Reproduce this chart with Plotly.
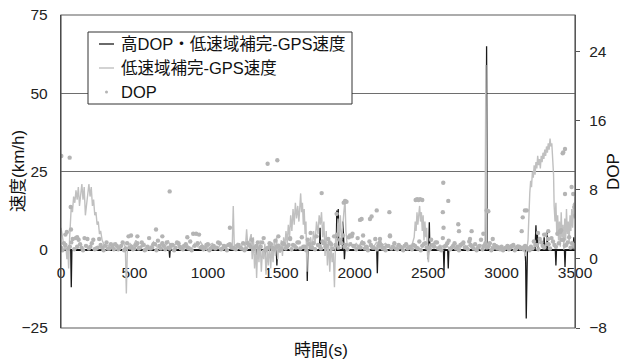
import plotly.graph_objects as go

# ---------------- data ----------------
# 低速域補完-GPS速度 (gray line): (time s, speed km/h)
gray_t = [0, 8, 16, 24, 32, 40, 46, 52, 58, 64, 70, 78, 86, 94, 102, 110, 118, 126, 134, 142,
          150, 158, 166, 174, 182, 190, 198, 206, 214, 222, 230, 238, 246, 254, 262, 270, 280, 290, 300,
          320, 340, 360, 380, 400, 420, 438, 445, 452, 470, 490, 510, 530, 550, 570, 590, 610, 630, 650,
          670, 690, 710, 730, 750, 770, 790, 810, 830, 850, 870, 890, 910, 930, 950, 970, 990, 1010,
          1030, 1050, 1070, 1090, 1110, 1130, 1150, 1166, 1173, 1180, 1200, 1220, 1240, 1256, 1264,
          1272, 1285, 1295,
          1302, 1310, 1318, 1326, 1332, 1340, 1348, 1356, 1364, 1372, 1380, 1388, 1396, 1404, 1412,
          1420, 1428, 1436, 1444, 1452, 1460, 1468, 1476, 1484, 1492, 1500, 1508, 1516, 1524, 1532,
          1540, 1548, 1556, 1564, 1572, 1580, 1588, 1596, 1604, 1612, 1620, 1626, 1632, 1638, 1644,
          1650, 1656, 1662, 1668, 1674, 1680, 1690, 1700, 1710, 1720, 1730, 1740, 1750, 1758, 1766,
          1774, 1782, 1790, 1798, 1806, 1814, 1822, 1830, 1838, 1846, 1854, 1862, 1870, 1878, 1886,
          1894, 1902, 1910, 1918, 1926, 1934, 1940, 1948, 1960, 1975,
          1990, 2010, 2030, 2050, 2070, 2090, 2110, 2130, 2150, 2170, 2190, 2210, 2230, 2250, 2270,
          2290, 2310, 2330, 2350, 2370, 2390,
          2405, 2412, 2418, 2424, 2430, 2436, 2442, 2448, 2454, 2460, 2466, 2472, 2478, 2484, 2490,
          2496, 2502, 2508, 2514, 2522,
          2540, 2560, 2580, 2600, 2620, 2640, 2660, 2680, 2700, 2720, 2740, 2760, 2780, 2800, 2820,
          2840, 2860, 2880, 2887, 2893, 2899,
          2910, 2930, 2950, 2970, 2990, 3010, 3030, 3050, 3070, 3090, 3110, 3130, 3150, 3162, 3172, 3180,
          3186, 3192, 3198, 3204, 3210, 3216, 3222, 3228, 3234, 3240, 3246, 3252, 3258, 3264, 3270,
          3276, 3282, 3288, 3294, 3300, 3306, 3312, 3318, 3324, 3330, 3336, 3342, 3348, 3354, 3358,
          3364, 3370, 3376, 3382, 3388, 3394, 3400, 3406, 3412, 3418, 3424, 3430, 3436, 3442, 3448,
          3454, 3460, 3466, 3472, 3478, 3484, 3490, 3496, 3500]
gray_v = [7, 5, 2, 0, 2, -3, 1, -6, 3, 9, 14, 12, 17, 15, 19, 16, 20, 14, 18, 21,
          16, 20, 11, 15, 19, 21, 17, 20, 14, 16, 11, 12, 8, 9, 5, 6, 3, 2, 1,
          1.5, 0.5, 2, 1, 0, 2.5, 1, -14, 0.5, 2, 1, 3, 0.5, 1.5, 2, 0, 1, 2.5, 1,
          0.5, 2, 1, 3, 0.5, 1.5, 2, 0, 1.5, 2, 1, 0.5, 2, 1, 2.5, 1, 0, 1.5,
          2, 1, 0.5, 2, 1, 1.5, 2, 1, 14, 1, 2, 0.5, 2, 1, 6.5,
          1, 3, 5,
          -3, 4, -6, 1, -9, 2, -4, 3, -7, 0, -3, 2, -8, 0, -5,
          2, -6, 1, -4, 3, -2, 4, -3, 2, -1, 3, -2, 4, 1, 6,
          2, 8, 4, 11, 6, 13, 8, 15, 10, 14, 9, 16, 18, 12, 15,
          8, 13, 5, 9, -7, 3, 1, 4, 0, 6, 2, 9, 5, 11, 8,
          12, 4, 9, -2, 6, -5, 3, -7, 2, -4, -1, -12, 4, 1, 10,
          4, 11, 2, 8, 12, 16, 6, 2, 1, 2,
          0.5, 2, 1, 3, 1, 0.5, 2, 1, 2.5, 0.5, 1.5, 2, 1, 0.5, 2,
          1, 1.5, 0.5, 2, 1, 1.5,
          4, 9, 6, 12, 8, 13, 14, 9, 12, 6, 11, 3, 9, 4, 7,
          -2, -4, 2, 0, 1,
          2, 0.5, 1.5, 1, 2, 0.5, 1, 2, 1, 0.5, 2, 1, 1.5, 0.5, 2,
          1, 1.5, 0.5, 1, 59, 1,
          2, 1, 0.5, 1.5, 1, 0.5, 1, 1.5, 0.5, 1, 1.5, 1, 0.5, -2, 0, 3,
          12, 18, 22, 20, 25, 23, 27, 24, 28, 26, 30, 27, 29, 26, 30,
          28, 31, 29, 32, 30, 33, 31, 34, 32, 35.5, 33, 34, 30, 24, 14,
          9, 15, 5, 11, 3, 9, 1, 12, 4, 8, 0, 10, 3, 13, 5,
          9, 2, 11, 6, 13, 7, 14, 10, 17]

# 高DOP・低速域補完-GPS速度 (black line): (time s, speed km/h)
black_t = [0, 66, 70, 74, 736, 740, 744, 1294, 1298, 1302, 1326, 1330, 1334, 1386, 1390, 1394,
           1416, 1420, 1424, 1466, 1470, 1474, 1673, 1677, 1681, 1760, 1764, 1768, 1874, 1878, 1882,
           1888, 1892, 1916, 1920, 1924, 1930, 1934, 2150, 2154, 2158, 2496, 2500, 2504, 2508, 2512,
           2604, 2608, 2612, 2633, 2637, 2641, 2894, 2898, 2902, 3160, 3164, 3168, 3172, 3176, 3228,
           3234, 3238, 3244, 3248, 3286, 3290, 3294, 3308, 3311, 3314, 3366, 3370, 3374, 3428, 3432,
           3436, 3486, 3492, 3496, 3500]
black_v = [0, 0, -12, 0, 0, -2.5, 0, 0, 3.5, 0, 0, -2, 0, 0, -2, 0,
           0, 2, 0, 0, -5, 0, 0, -10, 0, 0, 7, 0, 0, 12.5, 3,
           13, 0, 0, 9, 0, -3, 0, 0, -7.5, 0, 0, -3, 0, 8.8, 0,
           0, -6.6, 0, 0, -6, 0, 0, 65, 0, 0, -4, -22, -12, 0, 0,
           7.8, 2, 5, 0, 0, 4, 0, 0, 6, 0, 0, -5, 0, 0, -5.5,
           0, 0, 4, 0, 0]

# DOP (gray dots) – base ribbon every 20 s
dop_base_t = list(range(0, 3501, 20))
dop_base_v = [1.3, 1.8, 3.1, 1.4, 2.3, 2.4, 2.2, 1.3, 2.4, 2.3,
              1.4, 2.2, 1.2, 2.3, 1.3, 1.5, 1.2, 1.7, 1.1, 1.5,
              1.3, 1.9, 1.2, 2.6, 1.4, 1.2, 1.8, 1.3, 1.6, 1.1,
              2.4, 1.3, 1.7, 2.1, 1.2, 1.5, 1.9, 1.2, 1.6, 1.3,
              1.8, 1.2, 1.5, 1.3, 2.0, 2.9, 2.9, 2.8, 1.4, 1.3,
              1.7, 1.2, 1.5, 1.3, 1.8, 1.2, 1.4, 1.6, 1.3, 1.2,
              1.5, 1.3, 1.8, 1.2, 1.6, 2.2, 1.3, 1.9, 1.4, 2.4,
              1.2, 1.8, 1.3, 2.1, 1.5, 1.2, 1.7, 1.4, 2.3, 1.6,
              1.3, 1.9, 2.5, 1.4, 2.2, 1.3, 1.8, 2.6, 1.5, 2.0,
              1.4, 2.3, 1.7, 2.6, 2.8, 2.2, 2.7, 1.6, 2.5, 2.6,
              1.5, 2.4, 1.3, 1.8, 1.4, 2.0, 1.3, 2.3, 1.5, 1.6,
              1.3, 1.5, 2.6, 1.4, 1.2, 1.6, 1.3, 1.5, 1.2, 1.4,
              1.6, 1.3, 2.0, 1.5, 1.8, 1.3, 2.2, 1.4, 1.9, 1.3,
              2.4, 1.5, 2.1, 1.3, 1.8, 1.4, 1.6, 1.9, 1.3, 2.0,
              1.4, 1.7, 1.3, 2.2, 1.5, 1.3, 1.8, 1.2, 1.5, 1.3,
              1.4, 1.2, 1.5, 1.3, 1.6, 1.2, 1.4, 1.3, 1.5, 1.2,
              1.4, 2.0, 1.6, 2.3, 1.5, 2.8, 1.7, 2.4, 1.6, 2.9,
              3.1, 2.2, 1.6, 2.5, 1.8, 1.4]
# DOP – second ribbon, offset by 10 s
dop_mid_t = list(range(10, 3500, 20))
dop_mid_v = [1.0, 1.6, 1.2, 1.9, 1.1, 1.4, 1.7, 1.0, 1.5, 1.2,
             1.8, 1.1, 1.3, 1.6, 1.0, 1.9, 1.2, 1.4, 1.7, 1.1,
             1.5, 1.0, 1.8, 1.3, 1.1, 1.6, 1.2, 1.9, 1.0, 1.4,
             1.2, 1.7, 1.0, 1.5, 1.8, 1.1, 1.3, 1.6, 1.0, 1.9,
             1.4, 1.1, 1.7, 1.2, 1.0, 1.5, 1.8, 1.3, 1.1, 1.6,
             1.0, 1.4, 1.2, 1.9, 1.1, 1.5, 1.0, 1.7, 1.3, 1.1,
             1.6, 1.2, 1.0, 1.8, 1.4, 1.1, 1.5, 1.2, 1.9, 1.0,
             1.3, 1.7, 1.1, 1.4, 1.0, 1.8, 1.2, 1.6, 1.1, 1.5,
             1.9, 1.2, 1.4, 1.0, 1.7, 1.3, 1.1, 1.6, 1.2, 1.8,
             1.5, 1.9, 1.2, 1.6, 1.3, 1.8, 1.4, 1.1, 1.7, 1.5,
             1.1, 1.4, 1.8, 1.2, 1.0, 1.6, 1.3, 1.1, 1.9, 1.2,
             1.0, 1.5, 1.2, 1.8, 1.1, 1.4, 1.0, 1.7, 1.3, 1.1,
             1.5, 1.2, 1.0, 1.7, 1.3, 1.1, 1.6, 1.9, 1.2, 1.0,
             1.4, 1.8, 1.1, 1.5, 1.2, 1.0, 1.7, 1.3, 1.1, 1.6,
             1.2, 1.0, 1.5, 1.1, 1.8, 1.4, 1.0, 1.6, 1.2, 1.1,
             1.0, 1.3, 1.1, 1.5, 1.0, 1.4, 1.2, 1.1, 1.3, 1.0,
             1.2, 1.6, 1.1, 1.9, 1.3, 1.7, 1.2, 2.0, 1.4, 1.8,
             2.2, 1.5, 1.9, 1.3, 1.6]
# DOP – scattered higher values
dop_extra_t = [2, 59, 66, 68, 30, 110, 477, 520, 647, 740, 690, 860, 1150, 1407, 1473, 1480, 1560,
               1700, 1775, 1877, 1925, 1934, 1944, 1968, 1985, 2036, 2047, 2057, 2104, 2115, 2150,
               2172, 2236, 2240, 2415, 2425, 2435, 2445, 2460, 2603, 2600, 2605, 2637, 2705, 2710,
               2785, 2796, 2876, 2898, 2910, 2940, 3137, 3144, 3159, 3171, 3248, 3290, 3316, 3318,
               3398, 3405, 3416, 3420, 3432, 3432, 3477, 3488, 3495, 3500, 3500]
dop_extra_v = [11.9, 11.7, 6.0, 3.4, 2.8, 2.5, 2.7, 2.6, 3.4, 7.8, 2.6, 2.5, 3.6, 11.0, 11.4, 2.6, 2.4,
               3.0, 7.6, 5.2, 6.5, 6.7, 6.6, 2.7, 2.9, 4.5, 4.6, 2.7, 4.6, 4.9, 5.6,
               2.3, 5.4, 2.7, 6.8, 6.9, 6.8, 6.9, 6.8, 8.8, 5.4, 3.6, 6.7, 4.0, 3.2,
               2.3, 3.2, 2.9, 5.6, 5.5, 2.3, 3.2, 4.8, 5.6, 5.6, 3.0, 2.8, 2.3, 3.2,
               3.2, 3.3, 12.2, 12.3, 12.7, 7.5, 8.3, 7.5, 6.0, 6.3, 5.0]

x_ticks = [0, 500, 1000, 1500, 2000, 2500, 3000, 3500]
y_ticks = [-25, 0, 25, 50, 75]
y2_ticks = [-8, 0, 8, 16, 24]

legend_names = ["高DOP・低速域補完-GPS速度", "低速域補完-GPS速度", "DOP"]

# ---------------- styles ----------------
BLACK = "#1a1a1a"
LGRAY = "#c0c0c0"
DOTC = "#b4b4b4"
LAT = "Liberation Sans, Arial, sans-serif"
JP = "Liberation Sans, Noto Sans CJK JP, sans-serif"

W, H = 622, 361
L, R, T, B = 61, 575, 15, 328


def px(x):
    return (x - L) / (R - L)


def py(y):
    return (B - y) / (B - T)


fig = go.Figure()
fig.add_trace(go.Scatter(x=black_t, y=black_v, mode="lines", name=legend_names[0],
                         line=dict(color=BLACK, width=1.3), yaxis="y"))
fig.add_trace(go.Scatter(x=gray_t, y=gray_v, mode="lines", name=legend_names[1],
                         line=dict(color=LGRAY, width=1.4), yaxis="y"))
fig.add_trace(go.Scatter(x=dop_base_t + dop_mid_t + dop_extra_t,
                         y=dop_base_v + dop_mid_v + dop_extra_v, mode="markers",
                         name=legend_names[2], marker=dict(color=DOTC, size=4.4, line=dict(width=0)),
                         yaxis="y2"))

fig.update_layout(
    width=W, height=H,
    margin=dict(l=L, r=W - R, t=T, b=H - B, autoexpand=False),
    plot_bgcolor="white", paper_bgcolor="white",
    showlegend=False,
    xaxis=dict(range=[0, 3500], tickvals=x_ticks, anchor="free", position=0.25, automargin=False,
               showline=True, linecolor="black", linewidth=1.3, showgrid=False, zeroline=False,
               ticks="", ticklabelstandoff=8, tickfont=dict(family=LAT, size=15.5, color="#222"),
               layer="below traces"),
    yaxis=dict(range=[-25, 75], tickvals=y_ticks, showgrid=True, gridcolor="#6e6e6e", gridwidth=1.3,
               zeroline=False, showline=True, linecolor="#333", linewidth=1.3, ticks="", automargin=False,
               ticklabelstandoff=9, tickfont=dict(family=LAT, size=15.5, color="#222"),
               layer="below traces"),
    yaxis2=dict(range=[-8, 28.2], tickvals=y2_ticks, overlaying="y", side="right", anchor="x",
                showgrid=False, zeroline=False, showline=True, linecolor="#555", linewidth=1.2,
                ticks="outside", ticklen=4, tickcolor="#555", automargin=False,
                ticklabelstandoff=6, tickfont=dict(family=LAT, size=15.5, color="#222")),
)

# frame around plot area
fig.add_shape(type="rect", xref="paper", yref="paper", x0=0, x1=1, y0=0, y1=1,
              line=dict(color="#5a5a5a", width=1.2), layer="above")

# custom legend
fig.add_shape(type="rect", xref="paper", yref="paper", x0=px(88), x1=px(352), y0=py(104), y1=py(32),
              line=dict(color="#333", width=1), fillcolor="white", layer="above")
rows = [44, 68, 92]
fig.add_shape(type="line", xref="paper", yref="paper", x0=px(99), x1=px(114), y0=py(rows[0]), y1=py(rows[0]),
              line=dict(color=BLACK, width=1.3), layer="above")
fig.add_shape(type="line", xref="paper", yref="paper", x0=px(99), x1=px(114), y0=py(rows[1]), y1=py(rows[1]),
              line=dict(color=LGRAY, width=1.4), layer="above")
fig.add_shape(type="circle", xref="paper", yref="paper", x0=px(105), x1=px(108), y0=py(93.5), y1=py(90.5),
              line=dict(width=0), fillcolor=DOTC, layer="above")
for name, yy in zip(legend_names, rows):
    fig.add_annotation(xref="paper", yref="paper", x=px(119), y=py(yy), text=name, showarrow=False,
                       xanchor="left", yanchor="middle", font=dict(family=JP, size=16.5, color="#111"))

# axis titles
fig.add_annotation(xref="paper", yref="paper", x=px(18), y=py(171), text="速度(km/h)", textangle=-90,
                   showarrow=False, xanchor="center", yanchor="middle", font=dict(family=JP, size=17, color="#111"))
fig.add_annotation(xref="paper", yref="paper", x=px(613), y=py(172), text="DOP", textangle=-90,
                   showarrow=False, xanchor="center", yanchor="middle", font=dict(family=JP, size=17, color="#111"))
fig.add_annotation(xref="paper", yref="paper", x=px(321), y=py(350), text="時間(s)",
                   showarrow=False, xanchor="center", yanchor="middle", font=dict(family=JP, size=17, color="#111"))

fig.write_html("out.html")
